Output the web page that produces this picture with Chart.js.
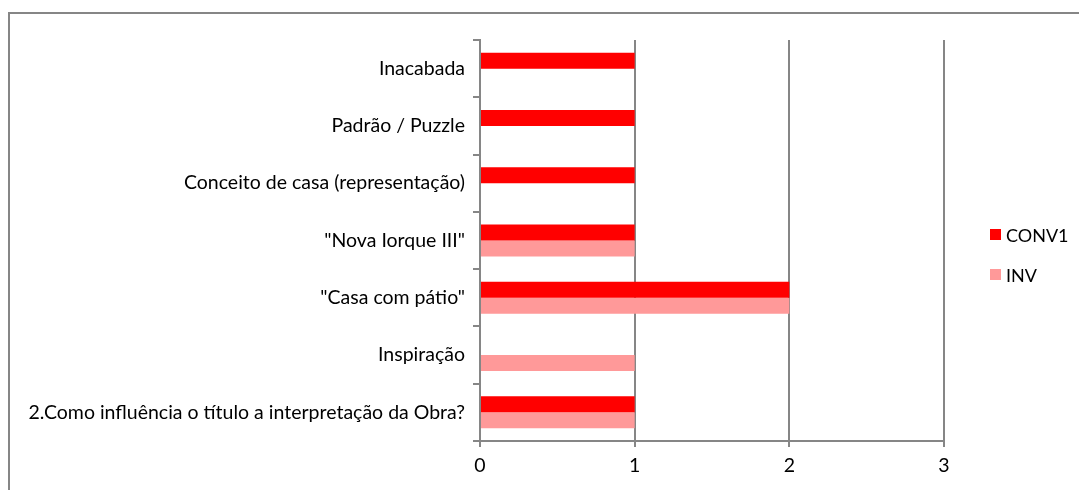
<!DOCTYPE html>
<html>
<head>
<meta charset="utf-8">
<script src="https://cdn.jsdelivr.net/npm/chart.js@4"></script>
<style>
  body { margin: 0; background: #fff; }
  #wrap { position: relative; width: 1079px; height: 490px; overflow: hidden; }
  #frame { position: absolute; left: 8px; top: 12px; width: 1200px; height: 600px; border-left: 2px solid #868686; border-top: 2px solid #868686; }
  #legend { position: absolute; left: 990px; top: 224px; font-family: Lato, sans-serif; font-size: 18px; color: #000; }
  #legend div { height: 40px; display: flex; align-items: flex-start; }
  #legend span.box { display: inline-block; width: 11px; height: 11px; margin-right: 5px; margin-top: 5px; }
</style>
</head>
<body>
<div id="wrap">
  <div id="frame"></div>
  <canvas id="myChart" width="1079" height="490" style="position:absolute;left:0;top:0"></canvas>
  <div id="legend"></div>
</div>
<script>
var categories = ['Inacabada', 'Padrão / Puzzle', 'Conceito de casa (representação)', '"Nova Iorque III"', '"Casa com pátio"', 'Inspiração', '2.Como influência o título a interpretação da Obra?'];
var conv1 = [1, 1, 1, 1, 2, null, 1];
var inv = [null, null, null, 1, 2, 1, 1];
var xTicks = [0, 1, 2, 3];

var gray = '#868686';
var ctx = document.getElementById('myChart').getContext('2d');
var myChart = new Chart(ctx, {
    type: 'bar',
    data: {
        labels: categories,
        datasets: [
            {
                label: 'CONV1',
                data: conv1,
                backgroundColor: '#ff0000'
            },
            {
                label: 'INV',
                data: inv,
                backgroundColor: '#ff9999'
            }
        ]
    },
    options: {
        indexAxis: 'y',
        responsive: false,
        animation: false,
        categoryPercentage: 0.558,
        barPercentage: 1,
        layout: {
            padding: { top: 40, right: 135, left: 0, bottom: 0 }
        },
        plugins: {
            legend: { display: false },
            tooltip: { enabled: false }
        },
        scales: {
            x: {
                min: 0,
                max: 3,
                afterBuildTicks: function (scale) {
                    scale.ticks = xTicks.map(function (v) { return { value: v }; });
                },
                afterFit: function (scale) { scale.height = 49; },
                grid: { color: gray, lineWidth: 2, tickLength: 6 },
                border: { color: gray, width: 2 },
                ticks: { color: '#000', padding: 7, font: { family: 'Lato', size: 19.5 } }
            },
            y: {
                afterFit: function (scale) { scale.width = 480; },
                grid: { color: gray, lineWidth: 2, tickLength: 7, drawOnChartArea: false, offset: true },
                border: { color: gray, width: 2 },
                ticks: { color: '#000', padding: 8, font: { family: 'Lato', size: 19.5 } }
            }
        }
    }
});

var legendEl = document.getElementById('legend');
myChart.data.datasets.forEach(function (ds) {
    var row = document.createElement('div');
    var box = document.createElement('span');
    box.className = 'box';
    box.style.background = ds.backgroundColor;
    row.appendChild(box);
    row.appendChild(document.createTextNode(ds.label));
    legendEl.appendChild(row);
});
</script>
</body>
</html>
